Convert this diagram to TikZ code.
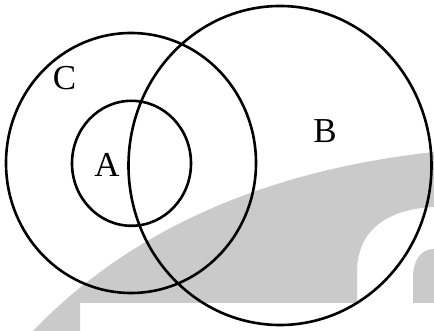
\documentclass[tikz,border=0pt]{standalone}
\usepackage{fontspec}
\setmainfont{Liberation Serif}
\begin{document}
\begin{tikzpicture}[x=1pt,y=-1pt,
  setline/.style={line width=2.6pt,black},
  setlabel/.style={font=\fontsize{35}{40}\selectfont,inner sep=0pt,anchor=center}]
\useasboundingbox (0,0) rectangle (434,331);
\definecolor{wmgray}{RGB}{202,202,202}
% watermark band
\fill[wmgray] (33,331) .. controls (120,240) and (250,172) .. (434,152)
  -- (434,207) .. controls (385,209) and (357,232) .. (357,272)
  -- (357,303) -- (80,303) -- (80,331) -- cycle;
\fill[wmgray] (434,249) .. controls (421,249) and (413,260) .. (413,278)
  -- (413,303) -- (434,303) -- cycle;
% sets
\coordinate (cC) at (131,163);
\coordinate (cA) at (131.5,163.3);
\coordinate (cB) at (280,165.5);
\draw[setline] (cC) ellipse [x radius=125, y radius=130];
\draw[setline] (cA) ellipse [x radius=59.5, y radius=62.5];
\draw[setline] (cB) ellipse [x radius=151.5, y radius=159.5];
\node[setlabel] (lC) at (64.5,78.5) {C};
\node[setlabel] (lA) at (107,164.5) {A};
\node[setlabel] (lB) at (325,131.5) {B};
\end{tikzpicture}
\end{document}
